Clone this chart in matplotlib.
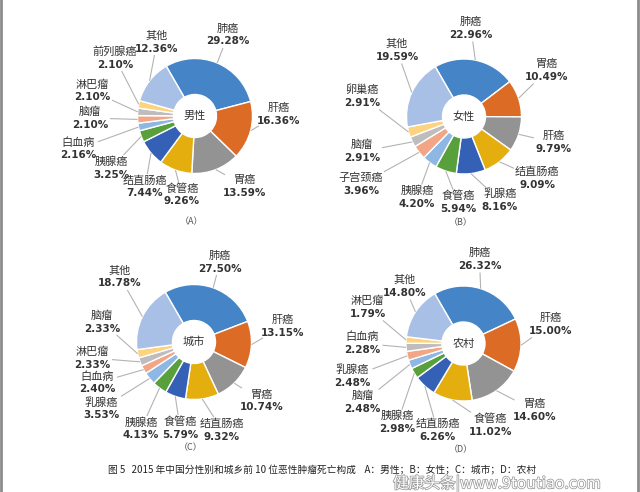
import numpy as np
import matplotlib
matplotlib.use('Agg')
import matplotlib.pyplot as plt
import matplotlib.patheffects as pe

plt.rcParams['font.family'] = ['Noto Sans CJK SC', 'DejaVu Sans']

# ---- data: share of deaths (%) for the top-10 cancers, 2015 ----
male_names = ['肺癌', '肝癌', '胃癌', '食管癌', '结直肠癌', '胰腺癌',
              '白血病', '脑瘤', '淋巴瘤', '前列腺癌', '其他']
male_values = [29.28, 16.36, 13.59, 9.26, 7.44, 3.25, 2.16, 2.10, 2.10, 2.10, 12.36]

female_names = ['肺癌', '胃癌', '肝癌', '结直肠癌', '乳腺癌', '食管癌',
                '胰腺癌', '子宫颈癌', '脑瘤', '卵巢癌', '其他']
female_values = [22.96, 10.49, 9.79, 9.09, 8.16, 5.94, 4.20, 3.96, 2.91, 2.91, 19.59]

urban_names = ['肺癌', '肝癌', '胃癌', '结直肠癌', '食管癌', '胰腺癌',
               '乳腺癌', '白血病', '淋巴瘤', '脑瘤', '其他']
urban_values = [27.50, 13.15, 10.74, 9.32, 5.79, 4.13, 3.53, 2.40, 2.33, 2.33, 18.78]

rural_names = ['肺癌', '肝癌', '胃癌', '食管癌', '结直肠癌', '胰腺癌',
               '脑瘤', '乳腺癌', '白血病', '淋巴瘤', '其他']
rural_values = [26.32, 15.00, 14.60, 11.02, 6.26, 2.98, 2.48, 2.48, 2.28, 1.79, 14.80]

centre_titles = ['男性', '女性', '城市', '农村']
panel_tags = ['（A）', '（B）', '（C）', '（D）']
caption = '图 5   2015 年中国分性别和城乡前 10 位恶性肿瘤死亡构成    A：男性；B：女性；C：城市；D：农村'

# ---- style / layout ----
colors = ['#4584c6', '#dc6b25', '#939393', '#e4ae0e', '#3460b5', '#58a03c',
          '#8fb7e3', '#f3a686', '#bdbdbd', '#fdd380', '#a8c0e5']
W, H = 640, 492
R, R_IN = 57.5, 21.5
centres = [(195, 116), (464, 116.5), (194, 342), (463.5, 343.5)]

# label block offsets from the donut centre (px, y down), per slice
offsets = [
    [(33, -81), (84, -2), (50, 70), (-13, 79), (-50, 71), (-84, 52),
     (-117, 33), (-105, 2), (-103, -25), (-80, -58), (-38, -74)],
    [(7, -88), (83, -46), (90, 26), (73, 62), (36, 84), (-6, 86),
     (-47, 81), (-103, 68), (-102, 35), (-102, -20), (-67, -66)],
    [(26, -80), (89, -16), (68, 59), (28, 88), (-14, 86), (-53, 87),
     (-93, 67), (-97, 41), (-102, 16), (-92, -20), (-74, -65)],
    [(16, -84), (87, -19), (71, 67), (27, 82), (-26, 87), (-66, 79),
     (-101, 59), (-111, 33), (-101, 0), (-96, -36), (-59, -57)],
]

fig = plt.figure(figsize=(6.4, 4.92), dpi=100)
ax = fig.add_axes([0, 0, 1, 1])

panels = [(male_names, male_values), (female_names, female_values),
          (urban_names, urban_values), (rural_names, rural_values)]

for (names, values), (cx, cy_img), offs, title, tag in zip(
        panels, centres, offsets, centre_titles, panel_tags):
    cy = H - cy_img
    wedges, _ = ax.pie(values, colors=colors, startangle=120, counterclock=False,
                       radius=R, center=(cx, cy),
                       wedgeprops=dict(width=R - R_IN, edgecolor='white', linewidth=1.0))
    for w, name, val, (dx, dy) in zip(wedges, names, values, offs):
        ang = np.deg2rad((w.theta1 + w.theta2) / 2)
        px, py = cx + R * np.cos(ang), cy + R * np.sin(ang)
        lx, ly = cx + dx, cy - dy
        hw = max(len(name) * 5.5, 19) + 1
        hh = 13
        vx, vy = px - lx, py - ly
        t = min(hw / abs(vx) if vx else np.inf, hh / abs(vy) if vy else np.inf)
        if t < 1:
            ax.plot([px, lx + vx * t], [py, ly + vy * t], color='#b3b3b3', lw=0.8,
                    solid_capstyle='butt', zorder=1)
        ax.text(lx, ly + 6.5, name, ha='center', va='center', fontsize=8, color='#333333')
        ax.text(lx, ly - 6.5, f'{val:.2f}%', ha='center', va='center', fontsize=7.5,
                fontweight='bold', color='#333333', family='DejaVu Sans')
    ax.text(cx, cy, title, ha='center', va='center', fontsize=8, color='#333333')
    ax.text(cx - 3, cy - 106, tag, ha='center', va='center', fontsize=6.5, color='#555555')

ax.text(108, H - 470, caption, ha='left', va='center', fontsize=7, color='#222222')
ax.text(393, H - 484, '健康头条|www.9toutiao.com', ha='left', va='center', fontsize=11.3,
        color='white', path_effects=[pe.withStroke(linewidth=1.1, foreground='#9a9a9a')])

# page edges of the scan
ax.plot([1, 1], [0, H], color='#8c8c8c', lw=2)
ax.plot([638, 638], [0, H], color='#8c8c8c', lw=2)

ax.set_aspect('auto')
ax.set_xlim(0, W)
ax.set_ylim(0, H)
ax.axis('off')

fig.savefig('out.png', dpi=100)
